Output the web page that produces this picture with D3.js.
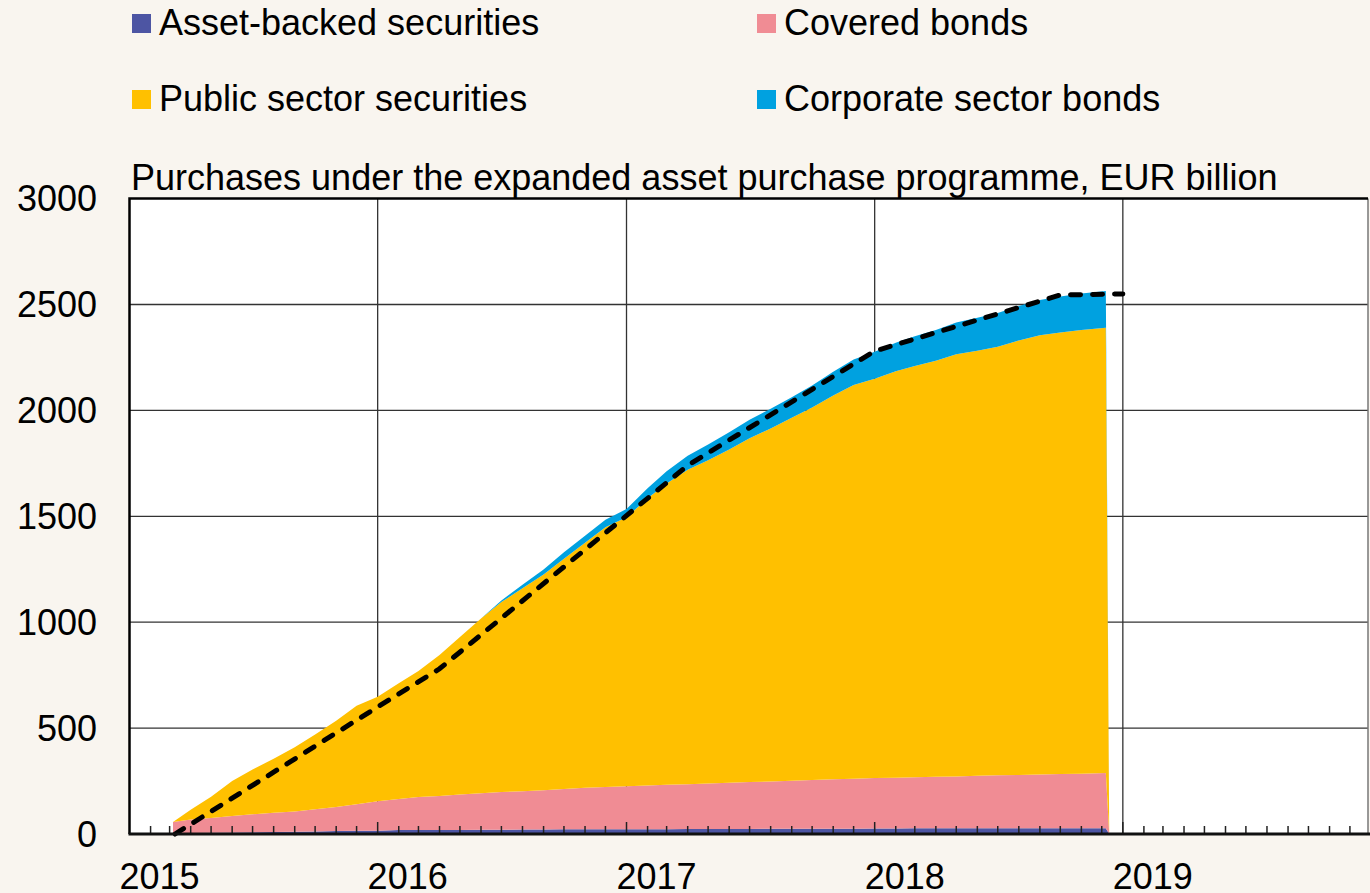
<!DOCTYPE html>
<html>
<head>
<meta charset="utf-8">
<script src="https://cdn.jsdelivr.net/npm/d3@7"></script>
<style>
  html, body { margin: 0; padding: 0; background: #f9f5ef; }
  svg { display: block; font-family: "Liberation Sans", Arial, sans-serif; }
</style>
</head>
<body>
<script>
const width = 1370;
const height = 893;

const dates = ["2015-03-06","2015-04-01","2015-05-01","2015-06-01","2015-07-01","2015-08-01",
  "2015-09-01","2015-10-01","2015-11-01","2015-12-01","2016-01-01","2016-02-01","2016-03-01",
  "2016-04-01","2016-05-01","2016-06-01","2016-07-01","2016-08-01","2016-09-01","2016-10-01",
  "2016-11-01","2016-12-01","2017-01-01","2017-02-01","2017-03-01","2017-04-01","2017-05-01",
  "2017-06-01","2017-07-01","2017-08-01","2017-09-01","2017-10-01","2017-11-01","2017-12-01",
  "2018-01-01","2018-02-01","2018-03-01","2018-04-01","2018-05-01","2018-06-01","2018-07-01",
  "2018-08-01","2018-09-01","2018-10-01","2018-11-01","2018-12-07","2018-12-12"];

const abs = [3,5,6,7,8,9,11,12,14,15,15,19,19,19,19,20,20,21,21,22,22,22,23,23,23,24,24,24,
  24,25,25,25,25,25,26,26,27,27,27,27,27,27,27,27,27,27,0];
const covered = [54,63,70,78,85,91,95,105,114,125,140,146,156,161,167,172,178,181,185,190,196,
  200,203,206,209,211,215,218,221,223,226,230,233,236,238,240,241,243,245,248,250,252,254,256,
  258,261,0];
const publicSector = [0,47,100,165,212,255,304,353,407,465,493,547,595,665,744,826,897,958,1019,
  1088,1157,1226,1269,1356,1423,1485,1526,1573,1623,1667,1714,1759,1812,1859,1886,1919,1942,
  1965,1993,2007,2023,2051,2074,2085,2095,2102,0];
const corporate = [0,0,0,0,0,0,0,0,0,0,0,0,0,0,0,0,8,17,24,30,33,36,40,48,58,66,74,82,88,93,97,
  104,112,120,127,134,140,145,150,155,160,163,166,170,172,174,0];

// intended cumulative purchases (dashed line)
const targetDates = ["2015-03-09","2016-01-01","2016-04-01","2017-04-01","2018-01-01","2018-10-01","2019-01-01"];
const targetValues = [0, 600, 780, 1740, 2280, 2545, 2550];

const keys = ["abs", "covered", "public", "corporate"];
const labels = ["Asset-backed securities", "Covered bonds", "Public sector securities", "Corporate sector bonds"];
const colors = ["#4d55a3", "#f08c94", "#ffc000", "#00a1e0"];
const yTicks = [0, 500, 1000, 1500, 2000, 2500, 3000];
const years = [2015, 2016, 2017, 2018, 2019];
const title = "Purchases under the expanded asset purchase programme, EUR billion";

const parse = d3.timeParse("%Y-%m-%d");
const rows = dates.map((d, i) => ({
  date: parse(d), abs: abs[i], covered: covered[i], public: publicSector[i], corporate: corporate[i]
}));
const target = targetDates.map((d, i) => ({ date: parse(d), value: targetValues[i] }));

const x = d3.scaleTime()
  .domain([new Date(2015, 0, 1), new Date(2020, 0, 1)])
  .range([129.5, 1371]);
const y = d3.scaleLinear().domain([0, 3000]).range([834, 198.6]);

const svg = d3.select("body").append("svg")
  .attr("width", width)
  .attr("height", height);

svg.append("rect").attr("width", width).attr("height", height).attr("fill", "#f9f5ef");

// plot background
svg.append("rect")
  .attr("x", x.range()[0]).attr("y", y(3000))
  .attr("width", 1368 - x.range()[0]).attr("height", y(0) - y(3000))
  .attr("fill", "#fff");

// grid
svg.append("g")
  .attr("stroke", "#333").attr("stroke-width", 1.3)
  .selectAll("line")
  .data(yTicks.filter(d => d > 0 && d < 3000))
  .join("line")
  .attr("x1", x.range()[0]).attr("x2", 1368)
  .attr("y1", d => y(d)).attr("y2", d => y(d));

svg.append("g")
  .attr("stroke", "#333").attr("stroke-width", 1.3)
  .selectAll("line")
  .data(years.slice(1))
  .join("line")
  .attr("x1", d => x(new Date(d, 0, 1))).attr("x2", d => x(new Date(d, 0, 1)))
  .attr("y1", y(3000)).attr("y2", y(0));

// stacked areas
const series = d3.stack().keys(keys)(rows);
const area = d3.area()
  .x(d => x(d.data.date))
  .y0(d => y(d[0]))
  .y1(d => y(d[1]));

svg.append("g")
  .selectAll("path")
  .data(series)
  .join("path")
  .attr("fill", (d, i) => colors[i])
  .attr("d", area);

// dashed target line
svg.append("path")
  .datum(target)
  .attr("fill", "none")
  .attr("stroke", "#000")
  .attr("stroke-width", 5)
  .attr("stroke-linecap", "round")
  .attr("stroke-dasharray", "10,12")
  .attr("d", d3.line().x(d => x(d.date)).y(d => y(d.value)));

// monthly ticks on the bottom axis
const months = d3.timeMonth.range(new Date(2015, 1, 1), new Date(2020, 0, 1));
svg.append("g")
  .attr("stroke", "#222").attr("stroke-width", 1.5)
  .selectAll("line")
  .data(months)
  .join("line")
  .attr("x1", d => x(d)).attr("x2", d => x(d))
  .attr("y1", y(0))
  .attr("y2", d => y(0) - (d.getMonth() === 0 ? 12 : 8));

// frame
svg.append("line")
  .attr("x1", 1368).attr("x2", 1368).attr("y1", y(3000)).attr("y2", y(0))
  .attr("stroke", "#777").attr("stroke-width", 1.5);
svg.append("path")
  .attr("fill", "none").attr("stroke", "#000").attr("stroke-width", 2.5)
  .attr("d", `M1368,${y(3000)}H${x.range()[0]}V${y(0)}`);
svg.append("line")
  .attr("x1", x.range()[0] - 1).attr("x2", 1370).attr("y1", y(0)).attr("y2", y(0))
  .attr("stroke", "#111").attr("stroke-width", 3);

// y labels
svg.append("g")
  .attr("font-size", 36).attr("text-anchor", "end").attr("fill", "#000")
  .selectAll("text")
  .data(yTicks)
  .join("text")
  .attr("x", 97)
  .attr("y", d => y(d) + 12.5)
  .text(d => d);

// x labels
svg.append("g")
  .attr("font-size", 36).attr("text-anchor", "middle").attr("fill", "#000")
  .selectAll("text")
  .data(years)
  .join("text")
  .attr("x", d => x(new Date(d, 0, 1)) + 30)
  .attr("y", 889)
  .text(d => d);

// title
svg.append("text")
  .attr("x", 131).attr("y", 190)
  .attr("font-size", 36)
  .text(title);

// legend
const legend = svg.append("g")
  .selectAll("g")
  .data(labels)
  .join("g")
  .attr("transform", (d, i) => `translate(${i % 2 ? 757 : 132},${i < 2 ? 14 : 90})`);

legend.append("rect")
  .attr("width", 19).attr("height", 19)
  .attr("fill", (d, i) => colors[i]);

legend.append("text")
  .attr("x", 27).attr("y", 21)
  .attr("font-size", 36)
  .text(d => d);
</script>
</body>
</html>
